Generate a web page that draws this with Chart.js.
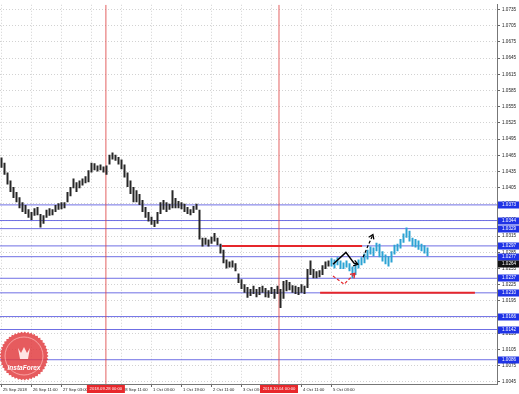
<!DOCTYPE html>
<html lang="en">
<head>
  <meta charset="UTF-8" />
  <title>H1 chart</title>
  <script src="https://cdn.jsdelivr.net/npm/chart.js"></script>
  <style>
    html, body { margin: 0; padding: 0; background: #fff; }
    #wrap { width: 519px; height: 394px; position: relative; }
  </style>
</head>
<body>
  <div id="wrap"><canvas id="chart"></canvas></div>

  <script>
    // price axis labels
    const priceTicks = [1.0045, 1.0075, 1.0105, 1.0135, 1.0165, 1.0195, 1.0225, 1.0255, 1.0285, 1.0315, 1.0345, 1.0375,
      1.0405, 1.0435, 1.0465, 1.0495, 1.0525, 1.0555, 1.0585, 1.0615, 1.0645, 1.0675, 1.0705, 1.0735];

    // time axis (bar slot index -> label)
    const timeTickPos = [0, 10, 20, 30, 40, 50, 60, 70, 80, 90, 100, 110];
    const timeLabels = ['25 Sep 2018', '26 Sep 11:00', '27 Sep 03:00', '27 Sep 19:00', '28 Sep 11:00', '1 Oct 03:00',
      '1 Oct 19:00', '2 Oct 11:00', '3 Oct 03:00', '3 Oct 19:00', '4 Oct 11:00', '5 Oct 03:00'];

    // history bars (high / low)
    const barHighs = [1.0461, 1.0451, 1.0433, 1.0418, 1.0406, 1.0397, 1.0387, 1.0378, 1.0373, 1.0365,
      1.0360, 1.0367, 1.0369, 1.0356, 1.0354, 1.0364, 1.0367, 1.0365, 1.0373, 1.0376,
      1.0378, 1.0378, 1.0397, 1.0406, 1.0422, 1.0415, 1.0418, 1.0422, 1.0426, 1.0437,
      1.0451, 1.0450, 1.0446, 1.0448, 1.0444, 1.0446, 1.0466, 1.0470, 1.0466, 1.0462,
      1.0457, 1.0448, 1.0433, 1.0418, 1.0406, 1.0400, 1.0393, 1.0382, 1.0369, 1.0360,
      1.0351, 1.0345, 1.0360, 1.0378, 1.0382, 1.0378, 1.0375, 1.0400, 1.0386, 1.0380,
      1.0378, 1.0375, 1.0369, 1.0365, 1.0371, 1.0375, 1.0364, 1.0312, 1.0312, 1.0309,
      1.0314, 1.0321, 1.0312, 1.0301, 1.0290, 1.0272, 1.0268, 1.0270, 1.0265, 1.0246,
      1.0235, 1.0226, 1.0221, 1.0217, 1.0223, 1.0217, 1.0221, 1.0223, 1.0219, 1.0215,
      1.0221, 1.0217, 1.0223, 1.0217, 1.0232, 1.0234, 1.0230, 1.0224, 1.0223, 1.0221,
      1.0226, 1.0223, 1.0254, 1.0270, 1.0254, 1.0250, 1.0252, 1.0261, 1.0268, 1.0270];
    const barLows = [1.0442, 1.0429, 1.0411, 1.0397, 1.0386, 1.0378, 1.0367, 1.0360, 1.0356, 1.0349,
      1.0345, 1.0353, 1.0354, 1.0331, 1.0338, 1.0349, 1.0353, 1.0354, 1.0360, 1.0364,
      1.0365, 1.0367, 1.0378, 1.0389, 1.0404, 1.0397, 1.0404, 1.0409, 1.0413, 1.0415,
      1.0433, 1.0437, 1.0435, 1.0437, 1.0433, 1.0429, 1.0448, 1.0457, 1.0455, 1.0448,
      1.0439, 1.0424, 1.0406, 1.0393, 1.0378, 1.0378, 1.0373, 1.0360, 1.0349, 1.0342,
      1.0336, 1.0332, 1.0338, 1.0356, 1.0364, 1.0360, 1.0364, 1.0367, 1.0367, 1.0367,
      1.0365, 1.0360, 1.0356, 1.0354, 1.0358, 1.0364, 1.0309, 1.0296, 1.0299, 1.0296,
      1.0301, 1.0305, 1.0298, 1.0283, 1.0265, 1.0255, 1.0257, 1.0257, 1.0250, 1.0228,
      1.0217, 1.0210, 1.0201, 1.0204, 1.0208, 1.0202, 1.0206, 1.0210, 1.0202, 1.0201,
      1.0208, 1.0199, 1.0208, 1.0182, 1.0199, 1.0213, 1.0215, 1.0210, 1.0208, 1.0206,
      1.0210, 1.0208, 1.0219, 1.0243, 1.0237, 1.0237, 1.0239, 1.0243, 1.0254, 1.0259];

    // forecast bars (drawn in blue), starting at slot 110
    const forecastStart = 110;
    const forecastHighs = [1.0274, 1.0272, 1.0276, 1.0270, 1.0266, 1.0270, 1.0265, 1.0259, 1.0265, 1.0272,
      1.0276, 1.0283, 1.0290, 1.0296, 1.0294, 1.0303, 1.0301, 1.0287, 1.0281, 1.0278,
      1.0287, 1.0299, 1.0301, 1.0310, 1.0320, 1.0331, 1.0325, 1.0312, 1.0310, 1.0307,
      1.0301, 1.0298, 1.0294];
    const forecastLows = [1.0259, 1.0255, 1.0261, 1.0254, 1.0254, 1.0257, 1.0250, 1.0237, 1.0243, 1.0255,
      1.0261, 1.0265, 1.0272, 1.0281, 1.0278, 1.0287, 1.0276, 1.0268, 1.0263, 1.0259,
      1.0266, 1.0281, 1.0287, 1.0292, 1.0303, 1.0312, 1.0305, 1.0296, 1.0294, 1.0290,
      1.0287, 1.0283, 1.0278];

    // horizontal levels (blue) and current price
    const levels = [1.0373, 1.0344, 1.0329, 1.0297, 1.0277, 1.0237, 1.0210, 1.0166, 1.0142, 1.0086];
    const currentPrice = 1.0264;

    // red segments: [from slot, to slot, price]
    const redSegments = [[73.5, 120.2, 1.0297], [106.2, 157.8, 1.0210]];

    // vertical separators
    const vLines = [34.8, 92.5];
    const vLineTexts = ['2018.09.28 00:00', '2018.10.04 00:00'];

    // hand drawn arrows
    const zigzagX = [110.5, 114.8, 117.5, 118.8];
    const zigzagY = [1.0263, 1.0285, 1.0265, 1.0263];
    const dashUpX = [120.5, 123.8];
    const dashUpY = [1.0276, 1.0318];
    const redPathX = [110.5, 114.2, 117.8];
    const redPathY = [1.0241, 1.0226, 1.0246];

    const X_MIN = -0.5, X_MAX = 165.1667;
    const Y_MIN = 1.0041, Y_MAX = 1.0744;
    const FONT = 'Liberation Sans';

    const toPts = (xs, ys) => xs.map((v, i) => ({ x: v, y: ys[i] }));
    const lineDs = (data, color, width, order, extra) => Object.assign({
      type: 'line', data, borderColor: color, borderWidth: width, pointRadius: 0,
      fill: false, tension: 0, order
    }, extra || {});

    const datasets = [];
    levels.forEach(v => {
      datasets.push(lineDs([{ x: X_MIN, y: v }, { x: X_MAX, y: v }], 'rgba(95,95,225,0.9)', 1, 20));
    });
    vLines.forEach(v => {
      datasets.push(lineDs([{ x: v, y: Y_MIN }, { x: v, y: Y_MAX }], 'rgba(222,70,70,0.85)', 1, 19));
    });
    datasets.push({
      type: 'bar', grouped: false, order: 10, barThickness: 2, inflateAmount: 0,
      backgroundColor: '#262626', borderWidth: 0,
      data: barLows.map((lo, i) => ({ x: i, y: [lo, barHighs[i]] }))
    });
    datasets.push({
      type: 'bar', grouped: false, order: 9, barThickness: 2, inflateAmount: 0,
      backgroundColor: '#2ca3d3', borderWidth: 0,
      data: forecastLows.map((lo, i) => ({ x: forecastStart + i, y: [lo, forecastHighs[i]] }))
    });
    redSegments.forEach(s => {
      datasets.push(lineDs([{ x: s[0], y: s[2] }, { x: s[1], y: s[2] }], '#e6262b', 2, 5));
    });
    datasets.push(lineDs(toPts(zigzagX, zigzagY), '#000', 1.5, 2, { arrow: true }));
    datasets.push(lineDs(toPts(dashUpX, dashUpY), '#000', 1.2, 2, { borderDash: [3, 2], arrow: true }));
    datasets.push(lineDs(toPts(redPathX, redPathY), '#e6262b', 1.2, 2, { borderDash: [3, 2], arrow: true }));

    function drawBadge(ctx) {
      const cx = 24, cy = 356, r = 23;
      ctx.save();
      ctx.beginPath();
      for (let a = 0; a <= 360; a += 4) {
        const rr = r + ((a / 4) % 2 === 0 ? 1.5 : 0);
        const t = a * Math.PI / 180;
        ctx.lineTo(cx + rr * Math.cos(t), cy + rr * Math.sin(t));
      }
      ctx.closePath();
      ctx.fillStyle = 'rgba(226,62,66,0.85)';
      ctx.fill();
      ctx.beginPath();
      ctx.arc(cx, cy, r - 4, 0, Math.PI * 2);
      ctx.strokeStyle = 'rgba(255,190,190,0.7)';
      ctx.lineWidth = 1;
      ctx.stroke();
      // emblem
      ctx.fillStyle = 'rgba(255,235,235,0.95)';
      ctx.beginPath();
      ctx.moveTo(cx - 6, cy - 8); ctx.lineTo(cx - 3, cy - 3); ctx.lineTo(cx, cy - 9);
      ctx.lineTo(cx + 3, cy - 3); ctx.lineTo(cx + 6, cy - 8); ctx.lineTo(cx + 4, cy + 3);
      ctx.lineTo(cx - 4, cy + 3); ctx.closePath();
      ctx.fill();
      ctx.font = 'italic bold 6.5px "' + FONT + '"';
      ctx.textAlign = 'center';
      ctx.textBaseline = 'middle';
      ctx.fillStyle = '#fff';
      ctx.fillText('InstaForex', cx, cy + 12);
      ctx.restore();
    }

    const overlay = {
      id: 'overlay',
      afterDatasetsDraw(chart) {
        const { ctx } = chart;
        // arrow heads
        chart.data.datasets.forEach((ds, i) => {
          if (!ds.arrow) return;
          const pts = chart.getDatasetMeta(i).data;
          const a = pts[pts.length - 2], b = pts[pts.length - 1];
          const ang = Math.atan2(b.y - a.y, b.x - a.x);
          ctx.save();
          ctx.strokeStyle = ds.borderColor;
          ctx.lineWidth = 1.3;
          ctx.beginPath();
          ctx.moveTo(b.x - 5 * Math.cos(ang - 0.6), b.y - 5 * Math.sin(ang - 0.6));
          ctx.lineTo(b.x, b.y);
          ctx.lineTo(b.x - 5 * Math.cos(ang + 0.6), b.y - 5 * Math.sin(ang + 0.6));
          ctx.stroke();
          ctx.restore();
        });
        drawBadge(ctx);
      },
      afterDraw(chart) {
        const { ctx, chartArea, scales: { x, y } } = chart;
        ctx.save();
        ctx.font = '4.6px "' + FONT + '"';
        ctx.textBaseline = 'middle';
        const tag = (v, bg) => {
          const py = Math.round(y.getPixelForValue(v));
          ctx.fillStyle = bg;
          ctx.fillRect(chartArea.right + 1, py - 3.5, 22, 7);
          ctx.fillStyle = '#fff';
          ctx.textAlign = 'left';
          ctx.fillText(v.toFixed(4), chartArea.right + 5, py);
        };
        levels.forEach(v => tag(v, '#1f33e6'));
        tag(currentPrice, '#111');
        vLines.forEach((v, i) => {
          const px = x.getPixelForValue(v);
          ctx.fillStyle = '#e8282c';
          ctx.fillRect(px - 19, chartArea.bottom + 1, 38, 8);
          ctx.fillStyle = '#fff';
          ctx.textAlign = 'center';
          ctx.font = '4.2px "' + FONT + '"';
          ctx.fillText(vLineTexts[i], px, chartArea.bottom + 5);
        });
        ctx.restore();
      }
    };

    const gridOpts = { color: '#d2d2d2', lineWidth: 1, tickLength: 3, tickColor: '#666', tickBorderDash: [], offset: false };
    const borderOpts = { color: '#777', width: 1, dash: [1, 2] };

    new Chart(document.getElementById('chart'), {
      type: 'bar',
      data: { datasets },
      options: {
        responsive: true,
        maintainAspectRatio: false,
        animation: false,
        layout: { padding: 0 },
        plugins: { legend: { display: false }, tooltip: { enabled: false } },
        scales: {
          x: {
            type: 'linear', min: X_MIN, max: X_MAX, offset: false, position: 'bottom',
            afterBuildTicks: s => { s.ticks = timeTickPos.map(v => ({ value: v })); },
            afterFit: s => { s.height = 10; },
            ticks: {
              autoSkip: false, maxRotation: 0, align: 'start', padding: 0, labelOffset: 1.5,
              color: '#222', font: { family: FONT, size: 4.2 },
              callback: (v, i) => timeLabels[i]
            },
            grid: gridOpts,
            border: borderOpts
          },
          y: {
            type: 'linear', position: 'right', min: Y_MIN, max: Y_MAX, beginAtZero: false,
            afterBuildTicks: s => { s.ticks = priceTicks.map(v => ({ value: v })); },
            afterFit: s => { s.width = 22; },
            ticks: {
              padding: 2, color: '#222', font: { family: FONT, size: 4.6 },
              callback: v => v.toFixed(4)
            },
            grid: gridOpts,
            border: borderOpts
          }
        }
      },
      plugins: [overlay]
    });
  </script>
</body>
</html>
